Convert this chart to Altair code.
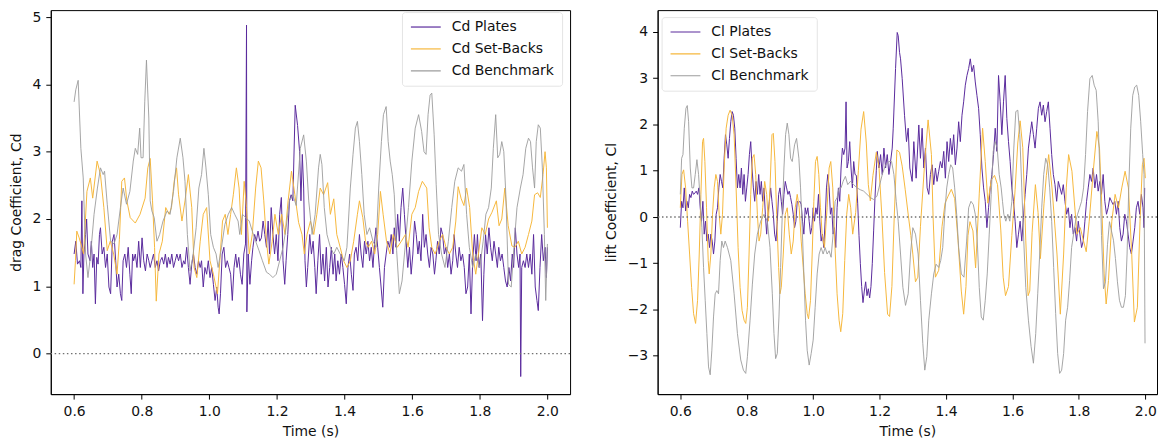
import altair as alt
import pandas as pd

# ---------------- data (time [s], coefficient) ----------------
cd_plates = [
    (0.600, 1.48), (0.605, 1.67), (0.610, 1.33), (0.616, 1.38), (0.620, 1.28), (0.623, 2.27), (0.626, 0.89),
    (0.629, 1.48), (0.634, 1.77), (0.637, 2.00), (0.641, 1.48), (0.647, 1.38), (0.651, 1.67), (0.655, 1.28),
    (0.659, 1.48), (0.663, 0.74), (0.667, 1.43), (0.671, 1.33), (0.675, 1.77), (0.678, 1.87), (0.683, 1.48),
    (0.688, 1.58), (0.693, 1.28), (0.698, 1.48), (0.703, 0.99), (0.708, 0.89), (0.713, 1.67), (0.718, 1.77),
    (0.723, 1.38), (0.727, 0.99), (0.732, 1.18), (0.737, 0.89), (0.741, 0.79), (0.745, 1.38), (0.750, 1.48),
    (0.755, 1.28), (0.760, 1.58), (0.765, 1.18), (0.769, 0.89), (0.773, 1.48), (0.776, 1.38), (0.781, 1.48),
    (0.786, 1.28), (0.791, 1.67), (0.796, 1.28), (0.801, 1.72), (0.806, 1.38), (0.811, 1.23), (0.816, 1.48),
    (0.821, 1.38), (0.825, 1.28), (0.830, 1.38), (0.835, 1.48), (0.840, 1.28), (0.845, 1.38), (0.850, 1.23),
    (0.855, 1.38), (0.860, 1.43), (0.865, 1.33), (0.870, 1.48), (0.875, 1.28), (0.879, 1.43), (0.884, 1.33),
    (0.889, 1.48), (0.894, 1.28), (0.899, 1.38), (0.904, 1.48), (0.909, 1.38), (0.914, 1.48), (0.919, 1.28),
    (0.924, 1.38), (0.928, 1.33), (0.933, 1.58), (0.938, 1.28), (0.943, 1.03), (0.948, 1.33), (0.953, 1.48),
    (0.958, 1.28), (0.963, 1.18), (0.968, 1.38), (0.973, 1.28), (0.977, 1.38), (0.982, 0.99), (0.987, 1.28),
    (0.992, 1.18), (0.997, 1.38), (1.002, 1.13), (1.007, 1.28), (1.012, 1.03), (1.017, 0.79), (1.022, 0.99),
    (1.026, 0.69), (1.029, 0.59), (1.033, 0.89), (1.038, 1.48), (1.043, 1.58), (1.048, 1.28), (1.053, 1.38),
    (1.058, 1.28), (1.063, 1.18), (1.068, 0.79), (1.073, 1.28), (1.078, 1.48), (1.082, 1.28), (1.087, 1.43),
    (1.092, 1.18), (1.097, 1.03), (1.102, 1.48), (1.107, 1.63), (1.110, 4.88), (1.111, 0.62), (1.115, 1.48),
    (1.120, 1.03), (1.125, 1.38), (1.129, 1.58), (1.134, 1.77), (1.139, 1.67), (1.144, 1.82), (1.149, 1.67),
    (1.154, 1.72), (1.159, 1.97), (1.164, 1.77), (1.169, 1.58), (1.174, 1.97), (1.178, 1.48), (1.183, 2.17),
    (1.188, 1.77), (1.193, 1.48), (1.198, 1.77), (1.203, 1.38), (1.208, 2.07), (1.213, 2.32), (1.218, 1.38),
    (1.223, 1.03), (1.227, 1.38), (1.232, 1.77), (1.237, 2.27), (1.242, 2.36), (1.247, 2.27), (1.254, 3.69),
    (1.261, 3.39), (1.267, 3.00), (1.271, 2.27), (1.275, 2.96), (1.279, 2.46), (1.283, 1.38), (1.287, 0.99),
    (1.291, 1.28), (1.297, 1.77), (1.302, 1.48), (1.307, 1.67), (1.312, 1.28), (1.316, 0.89), (1.321, 1.38),
    (1.326, 1.77), (1.331, 1.18), (1.336, 1.48), (1.341, 1.08), (1.346, 1.58), (1.351, 0.99), (1.356, 1.28),
    (1.361, 1.58), (1.366, 1.18), (1.371, 1.48), (1.375, 1.08), (1.380, 1.38), (1.385, 1.18), (1.390, 1.48),
    (1.395, 1.28), (1.400, 1.03), (1.405, 0.74), (1.410, 1.28), (1.415, 1.48), (1.420, 1.18), (1.425, 0.94),
    (1.429, 1.48), (1.434, 1.58), (1.439, 1.38), (1.444, 1.77), (1.449, 1.48), (1.454, 1.28), (1.459, 1.67),
    (1.464, 1.48), (1.469, 1.67), (1.474, 1.38), (1.479, 1.58), (1.484, 1.28), (1.489, 1.67), (1.493, 1.87),
    (1.498, 1.58), (1.503, 1.28), (1.508, 0.99), (1.513, 0.69), (1.518, 1.28), (1.523, 1.48), (1.528, 1.67),
    (1.533, 1.58), (1.538, 1.77), (1.543, 1.48), (1.547, 1.87), (1.552, 1.58), (1.557, 2.07), (1.562, 1.67),
    (1.567, 2.17), (1.572, 2.46), (1.577, 2.07), (1.582, 1.67), (1.587, 1.28), (1.592, 1.58), (1.597, 1.18),
    (1.602, 1.48), (1.607, 1.97), (1.612, 1.77), (1.617, 1.48), (1.621, 1.67), (1.626, 1.38), (1.631, 2.07),
    (1.636, 1.58), (1.641, 1.77), (1.646, 1.48), (1.651, 1.28), (1.656, 1.58), (1.661, 1.48), (1.666, 1.18),
    (1.670, 1.38), (1.675, 1.67), (1.680, 1.48), (1.685, 1.87), (1.690, 1.77), (1.695, 1.48), (1.700, 1.58),
    (1.705, 1.28), (1.710, 1.48), (1.715, 1.18), (1.720, 1.38), (1.724, 1.77), (1.729, 1.48), (1.734, 1.28),
    (1.739, 1.58), (1.744, 1.38), (1.749, 1.48), (1.754, 1.28), (1.759, 0.89), (1.764, 0.99), (1.769, 1.48),
    (1.774, 0.59), (1.779, 1.38), (1.784, 1.77), (1.789, 1.38), (1.793, 1.77), (1.798, 1.28), (1.803, 1.48),
    (1.808, 0.49), (1.812, 1.18), (1.817, 1.77), (1.822, 1.48), (1.827, 1.87), (1.832, 1.58), (1.837, 1.38),
    (1.842, 1.67), (1.847, 1.48), (1.852, 1.28), (1.856, 1.58), (1.861, 1.38), (1.866, 1.48), (1.871, 1.28),
    (1.876, 1.08), (1.881, 0.99), (1.886, 1.28), (1.891, 1.08), (1.896, 1.48), (1.900, 1.28), (1.905, 1.87),
    (1.910, 1.48), (1.915, 1.28), (1.919, 1.48), (1.921, -0.34), (1.924, 1.28), (1.929, 1.38), (1.934, 1.28),
    (1.939, 1.48), (1.944, 1.28), (1.949, 1.48), (1.954, 1.18), (1.959, 1.77), (1.964, 0.99), (1.969, 0.79),
    (1.973, 0.64), (1.978, 1.28), (1.983, 1.77), (1.988, 1.38), (1.993, 1.58), (1.997, 1.13), (2.000, 1.58),
]

cd_setbacks = [
    (0.600, 1.03), (0.604, 1.38), (0.608, 1.82), (0.615, 1.72), (0.622, 1.60), (0.628, 1.48), (0.638, 2.41),
    (0.648, 2.61), (0.655, 2.31), (0.668, 2.86), (0.678, 2.66), (0.688, 2.17), (0.698, 1.53), (0.707, 1.67),
    (0.717, 1.48), (0.727, 1.18), (0.734, 1.70), (0.741, 2.56), (0.749, 2.61), (0.756, 2.27), (0.766, 2.02),
    (0.781, 1.94), (0.795, 2.07), (0.810, 2.31), (0.818, 2.76), (0.825, 2.90), (0.832, 2.27), (0.838, 1.58),
    (0.843, 0.78), (0.851, 1.48), (0.861, 1.67), (0.871, 2.17), (0.881, 2.07), (0.888, 2.17), (0.896, 2.56),
    (0.903, 2.76), (0.909, 2.36), (0.919, 1.97), (0.928, 2.27), (0.938, 2.66), (0.948, 2.17), (0.955, 1.28),
    (0.963, 1.13), (0.973, 1.67), (0.982, 2.07), (0.992, 2.17), (1.002, 1.38), (1.012, 1.18), (1.024, 0.89),
    (1.031, 1.38), (1.039, 1.97), (1.047, 2.07), (1.055, 1.77), (1.063, 2.07), (1.071, 2.36), (1.080, 2.76),
    (1.088, 2.46), (1.095, 1.77), (1.103, 2.56), (1.110, 2.17), (1.118, 1.48), (1.127, 1.77), (1.137, 2.46),
    (1.145, 2.86), (1.153, 2.76), (1.161, 2.27), (1.169, 1.67), (1.176, 1.33), (1.186, 1.67), (1.194, 2.07),
    (1.204, 1.77), (1.214, 2.07), (1.224, 1.77), (1.233, 2.27), (1.243, 2.71), (1.253, 2.36), (1.264, 1.95),
    (1.274, 1.77), (1.281, 1.48), (1.289, 1.77), (1.299, 1.97), (1.309, 1.77), (1.318, 2.07), (1.328, 2.46),
    (1.338, 2.36), (1.350, 2.54), (1.358, 2.07), (1.368, 2.30), (1.377, 1.77), (1.387, 1.58), (1.397, 1.38),
    (1.407, 1.28), (1.417, 1.38), (1.427, 1.67), (1.438, 2.07), (1.444, 2.27), (1.454, 2.02), (1.462, 1.67),
    (1.470, 1.58), (1.480, 1.67), (1.489, 1.48), (1.498, 1.77), (1.506, 2.41), (1.514, 2.07), (1.524, 1.67),
    (1.534, 1.48), (1.544, 1.77), (1.556, 1.58), (1.568, 1.67), (1.580, 1.77), (1.588, 1.58), (1.599, 2.07),
    (1.609, 2.17), (1.619, 2.41), (1.630, 2.56), (1.643, 2.46), (1.650, 1.87), (1.658, 1.58), (1.668, 1.48),
    (1.680, 1.67), (1.690, 1.77), (1.700, 1.58), (1.710, 1.48), (1.720, 1.58), (1.729, 1.97), (1.736, 2.48),
    (1.745, 2.30), (1.753, 2.20), (1.761, 2.46), (1.770, 2.17), (1.779, 1.48), (1.788, 1.18), (1.796, 1.48),
    (1.806, 1.87), (1.816, 1.77), (1.826, 2.00), (1.836, 2.10), (1.849, 2.27), (1.857, 1.90), (1.865, 2.00),
    (1.874, 2.46), (1.884, 1.90), (1.895, 1.60), (1.904, 1.58), (1.914, 1.67), (1.924, 1.48), (1.934, 1.58),
    (1.944, 1.77), (1.954, 1.97), (1.962, 2.36), (1.971, 2.39), (1.979, 2.32), (1.987, 2.66), (1.993, 3.00),
    (1.997, 2.76), (2.000, 1.87),
]

cd_benchmark = [
    (0.600, 3.74), (0.605, 3.92), (0.612, 4.06), (0.620, 3.05), (0.627, 2.61), (0.634, 1.48), (0.641, 1.13),
    (0.649, 1.48), (0.659, 2.07), (0.669, 2.46), (0.678, 2.76), (0.686, 2.66), (0.690, 2.71), (0.698, 2.22),
    (0.708, 1.67), (0.718, 1.63), (0.727, 1.77), (0.737, 2.17), (0.745, 2.46), (0.755, 2.22), (0.765, 2.41),
    (0.775, 2.86), (0.781, 3.05), (0.788, 2.96), (0.794, 3.35), (0.798, 2.91), (0.804, 2.91), (0.809, 3.74),
    (0.814, 4.36), (0.821, 3.50), (0.825, 2.27), (0.830, 2.12), (0.837, 2.02), (0.845, 1.67), (0.853, 1.77),
    (0.863, 1.97), (0.875, 2.12), (0.884, 2.07), (0.894, 2.41), (0.904, 2.91), (0.914, 3.20), (0.922, 2.91),
    (0.928, 2.56), (0.935, 1.77), (0.943, 1.23), (0.951, 1.43), (0.961, 1.87), (0.969, 2.46), (0.977, 2.66),
    (0.984, 3.05), (0.990, 2.76), (0.997, 2.36), (1.004, 1.77), (1.012, 1.58), (1.020, 1.48), (1.026, 1.28),
    (1.036, 1.58), (1.046, 1.92), (1.056, 2.07), (1.066, 2.17), (1.075, 2.07), (1.085, 1.97), (1.090, 1.77),
    (1.098, 2.07), (1.108, 2.02), (1.118, 1.97), (1.127, 1.82), (1.137, 1.67), (1.147, 1.53), (1.157, 1.38),
    (1.169, 1.21), (1.178, 1.18), (1.188, 1.13), (1.198, 1.18), (1.208, 1.38), (1.218, 1.58), (1.227, 1.87),
    (1.237, 2.27), (1.247, 2.36), (1.257, 2.20), (1.269, 3.05), (1.279, 3.25), (1.287, 2.86), (1.294, 2.27),
    (1.304, 1.77), (1.313, 2.07), (1.323, 2.76), (1.328, 2.96), (1.333, 2.81), (1.340, 2.17), (1.348, 1.77),
    (1.358, 1.58), (1.368, 1.48), (1.377, 1.58), (1.387, 1.48), (1.399, 1.38), (1.407, 1.58), (1.417, 2.46),
    (1.425, 2.96), (1.432, 3.35), (1.438, 3.45), (1.444, 3.15), (1.451, 2.66), (1.458, 2.07), (1.466, 1.77),
    (1.474, 1.87), (1.484, 1.67), (1.493, 1.58), (1.501, 2.46), (1.509, 3.15), (1.515, 3.55), (1.523, 3.67),
    (1.529, 3.15), (1.535, 2.86), (1.541, 2.66), (1.547, 2.36), (1.554, 1.53), (1.562, 0.89), (1.570, 1.08),
    (1.579, 1.58), (1.589, 2.17), (1.599, 2.86), (1.609, 3.35), (1.619, 3.55), (1.628, 3.30), (1.635, 3.00),
    (1.641, 2.96), (1.647, 3.55), (1.653, 3.84), (1.658, 3.87), (1.665, 3.25), (1.671, 2.51), (1.678, 1.77),
    (1.687, 1.48), (1.697, 1.28), (1.707, 1.67), (1.717, 2.17), (1.726, 2.56), (1.736, 2.76), (1.746, 2.71),
    (1.753, 2.81), (1.761, 2.07), (1.769, 1.58), (1.779, 1.28), (1.788, 1.48), (1.800, 1.28), (1.810, 1.67),
    (1.818, 2.07), (1.826, 2.17), (1.834, 2.46), (1.840, 3.05), (1.847, 3.55), (1.853, 2.91), (1.859, 2.96),
    (1.865, 3.15), (1.871, 3.00), (1.877, 2.36), (1.885, 1.03), (1.893, 0.99), (1.901, 1.58), (1.910, 2.17),
    (1.920, 2.46), (1.928, 2.66), (1.936, 3.05), (1.944, 3.20), (1.950, 3.15), (1.956, 2.76), (1.962, 2.46),
    (1.967, 3.15), (1.973, 3.40), (1.979, 3.35), (1.985, 2.76), (1.991, 1.77), (1.995, 0.79), (2.000, 1.63),
]

cl_plates = [
    (0.600, -0.23), (0.604, 0.34), (0.608, 0.20), (0.612, 0.63), (0.616, 0.13), (0.620, 0.34), (0.624, 0.20),
    (0.628, 0.49), (0.632, 0.42), (0.636, 0.56), (0.640, 0.49), (0.644, 0.52), (0.648, 0.56), (0.652, 0.49),
    (0.656, 0.63), (0.660, 0.20), (0.664, -0.09), (0.668, 0.34), (0.672, -0.37), (0.676, -0.09), (0.680, -0.52),
    (0.684, -0.37), (0.688, -0.66), (0.692, -0.37), (0.696, -0.52), (0.700, -0.80), (0.704, -0.52), (0.708, 0.06),
    (0.712, 0.20), (0.716, 0.63), (0.720, 0.92), (0.724, 0.77), (0.728, 0.63), (0.732, 1.27), (0.736, 1.78),
    (0.740, 1.56), (0.744, 1.27), (0.748, 1.70), (0.752, 2.06), (0.756, 2.28), (0.760, 2.20), (0.764, 1.92),
    (0.768, 1.27), (0.772, 0.63), (0.776, 0.92), (0.780, 0.63), (0.784, 1.06), (0.788, 0.49), (0.792, 0.92),
    (0.796, 0.34), (0.800, 0.63), (0.804, 0.92), (0.808, 1.35), (0.812, 1.63), (0.816, 1.06), (0.820, 0.63),
    (0.824, 0.34), (0.828, 0.77), (0.832, 0.49), (0.836, 0.92), (0.840, 0.49), (0.844, 0.77), (0.848, 0.34),
    (0.852, 0.63), (0.856, 0.06), (0.860, -0.37), (0.864, 0.06), (0.868, 0.34), (0.872, 0.63), (0.876, 0.34),
    (0.880, 0.06), (0.884, -0.37), (0.888, -0.52), (0.892, -0.09), (0.896, 0.49), (0.900, 0.63), (0.904, 0.34),
    (0.908, 0.06), (0.912, 0.49), (0.916, 0.77), (0.920, 0.63), (0.924, 0.49), (0.928, 0.56), (0.932, 0.42),
    (0.936, 0.27), (0.940, 0.06), (0.944, -0.23), (0.948, -0.09), (0.952, 0.34), (0.956, 0.31), (0.960, 0.34),
    (0.964, 0.27), (0.968, -0.09), (0.972, -0.37), (0.976, 0.20), (0.980, 0.06), (0.984, 0.20), (0.988, -0.09),
    (0.992, -0.37), (0.996, -0.23), (1.000, 0.20), (1.004, -0.09), (1.008, 0.20), (1.012, 0.06), (1.016, 0.49),
    (1.020, -0.09), (1.024, -0.52), (1.028, -0.37), (1.032, -0.66), (1.036, -0.09), (1.040, 0.63), (1.044, 0.92),
    (1.048, 0.63), (1.052, 0.06), (1.056, 0.20), (1.060, -0.37), (1.064, -0.23), (1.068, -0.66), (1.072, 0.20),
    (1.076, 0.63), (1.080, 0.34), (1.084, 1.06), (1.088, 1.49), (1.092, 1.35), (1.096, 1.49), (1.099, 2.49),
    (1.102, 1.06), (1.106, 1.20), (1.110, 1.63), (1.114, 1.06), (1.118, 0.63), (1.122, 1.20), (1.126, 0.92),
    (1.130, 0.90), (1.134, 0.30), (1.138, -0.40), (1.142, -1.00), (1.146, -1.50), (1.150, -1.85), (1.154, -1.60),
    (1.158, -1.40), (1.162, -1.70), (1.166, -1.55), (1.170, -1.75), (1.174, -1.50), (1.178, -1.00), (1.182, -0.30),
    (1.186, 0.40), (1.190, 1.00), (1.193, 1.42), (1.198, 1.06), (1.203, 1.35), (1.208, 0.92), (1.213, 1.49),
    (1.218, 1.06), (1.223, 1.35), (1.228, 0.92), (1.233, 1.20), (1.238, 1.49), (1.241, 1.92), (1.248, 3.21),
    (1.253, 3.99), (1.256, 3.92), (1.260, 3.56), (1.263, 3.42), (1.268, 2.99), (1.275, 2.20), (1.281, 1.63),
    (1.286, 1.92), (1.291, 1.06), (1.298, 0.77), (1.303, 1.63), (1.310, 0.84), (1.318, 1.99), (1.323, 1.27),
    (1.328, 1.92), (1.333, 1.06), (1.338, 1.49), (1.343, 0.63), (1.348, 0.49), (1.353, 0.92), (1.358, 1.13),
    (1.363, 0.70), (1.368, 1.06), (1.373, 0.77), (1.378, 0.99), (1.383, 1.20), (1.388, 1.06), (1.393, 1.42),
    (1.398, 0.84), (1.403, 1.63), (1.408, 1.20), (1.413, 1.70), (1.418, 1.35), (1.423, 1.78), (1.428, 1.13),
    (1.433, 1.49), (1.438, 2.06), (1.443, 1.63), (1.448, 2.20), (1.453, 2.49), (1.458, 2.85), (1.463, 3.06),
    (1.468, 3.21), (1.473, 3.42), (1.478, 3.14), (1.483, 3.28), (1.488, 2.92), (1.493, 2.63), (1.498, 2.35),
    (1.503, 1.78), (1.508, 1.06), (1.513, 0.63), (1.518, 0.34), (1.523, -0.23), (1.528, 0.20), (1.533, 0.63),
    (1.538, 0.92), (1.543, 1.35), (1.548, 1.92), (1.553, 1.42), (1.558, 3.06), (1.563, 2.49), (1.568, 1.78),
    (1.573, 2.49), (1.578, 3.06), (1.583, 2.13), (1.588, 1.63), (1.593, 1.20), (1.598, 0.63), (1.603, 0.34),
    (1.608, -0.09), (1.613, -0.66), (1.618, -0.37), (1.623, -0.09), (1.628, -0.52), (1.633, -0.01), (1.638, 0.49),
    (1.643, 0.92), (1.648, 1.49), (1.653, 1.78), (1.658, 2.06), (1.663, 1.78), (1.668, 1.49), (1.673, 1.92),
    (1.678, 2.35), (1.683, 2.49), (1.688, 2.20), (1.693, 2.42), (1.698, 2.06), (1.703, 2.28), (1.708, 2.49),
    (1.713, 1.92), (1.718, 1.35), (1.723, 0.92), (1.728, 0.70), (1.733, 0.34), (1.738, 0.77), (1.743, 0.63),
    (1.748, 0.49), (1.753, 0.70), (1.758, 0.34), (1.763, 0.06), (1.768, 0.20), (1.773, -0.23), (1.778, 0.06),
    (1.783, -0.37), (1.788, -0.23), (1.793, -0.52), (1.798, -0.09), (1.803, -0.37), (1.808, -0.66), (1.813, -0.52),
    (1.818, -0.09), (1.823, 0.34), (1.828, 0.63), (1.833, 0.92), (1.838, 0.77), (1.843, 1.06), (1.848, 0.63),
    (1.853, 0.92), (1.858, 0.56), (1.863, 0.77), (1.868, 0.49), (1.873, 0.92), (1.878, 0.34), (1.883, 0.06),
    (1.888, 0.20), (1.893, 0.42), (1.898, 0.34), (1.903, 0.27), (1.908, 0.34), (1.913, 0.06), (1.918, 0.34),
    (1.923, -0.23), (1.928, -0.52), (1.933, -0.37), (1.938, 0.06), (1.943, -0.09), (1.948, -0.37), (1.953, -0.66),
    (1.958, -0.80), (1.963, -0.52), (1.968, -0.23), (1.973, 0.20), (1.978, 0.34), (1.983, 0.06), (1.988, 0.49),
    (1.993, 0.20), (1.996, -0.23), (1.998, 0.63),
]

cl_setbacks = [
    (0.600, 0.20), (0.605, 0.92), (0.610, 1.02), (0.616, 0.63), (0.622, -0.09), (0.628, -0.80), (0.634, -1.52),
    (0.640, -2.09), (0.646, -2.30), (0.652, -1.80), (0.657, -0.80), (0.662, 0.49), (0.667, 1.63), (0.670, 1.70),
    (0.674, 1.20), (0.679, 0.20), (0.684, -0.94), (0.687, -1.23), (0.692, -0.80), (0.697, 0.06), (0.702, 0.63),
    (0.707, 0.92), (0.712, 0.77), (0.717, 0.06), (0.722, -0.37), (0.727, 0.06), (0.732, 1.06), (0.738, 1.92),
    (0.744, 2.20), (0.750, 2.31), (0.756, 2.20), (0.762, 1.78), (0.768, 0.63), (0.774, -0.66), (0.780, -1.52),
    (0.786, -2.02), (0.792, -2.23), (0.797, -2.30), (0.802, -1.95), (0.807, -0.80), (0.812, 0.49), (0.817, 1.27),
    (0.822, 1.35), (0.827, 0.92), (0.832, 0.06), (0.837, -0.52), (0.842, -0.37), (0.848, 0.20), (0.854, 0.77),
    (0.860, 0.49), (0.865, -0.09), (0.870, 0.63), (0.876, 1.78), (0.880, 1.81), (0.885, 1.20), (0.890, 0.06),
    (0.896, -1.09), (0.900, -1.66), (0.904, -1.52), (0.910, -0.80), (0.916, 0.06), (0.922, 0.20), (0.928, -0.37),
    (0.934, -0.80), (0.940, -0.52), (0.946, 0.20), (0.952, 0.49), (0.958, 0.20), (0.964, -0.52), (0.970, -1.09),
    (0.976, -1.66), (0.982, -2.09), (0.986, -2.20), (0.992, -1.80), (0.997, -0.80), (1.002, 0.34), (1.007, 1.20),
    (1.012, 1.31), (1.017, 0.92), (1.022, 0.20), (1.027, -0.37), (1.034, -0.66), (1.042, 0.20), (1.048, 1.06),
    (1.053, 1.20), (1.059, 0.63), (1.065, -0.52), (1.072, -1.66), (1.078, -2.23), (1.083, -2.48), (1.089, -2.09),
    (1.095, -0.94), (1.101, 0.06), (1.107, 0.49), (1.113, 0.20), (1.119, -0.37), (1.128, 0.10), (1.136, 1.00),
    (1.144, 1.90), (1.152, 2.28), (1.160, 1.60), (1.166, 0.70), (1.172, 0.35), (1.180, 0.90), (1.190, 1.40),
    (1.198, 1.10), (1.207, 0.00), (1.215, -1.20), (1.224, -2.10), (1.230, -2.15), (1.237, -1.50), (1.244, 0.00),
    (1.252, 1.45), (1.260, 1.40), (1.268, 1.10), (1.277, 0.60), (1.287, 0.00), (1.294, -0.40), (1.300, -0.80),
    (1.308, -1.40), (1.315, -1.30), (1.323, -0.20), (1.336, 1.21), (1.346, 2.10), (1.356, 1.35), (1.361, 0.00),
    (1.368, -1.30), (1.378, -1.15), (1.388, -0.20), (1.397, 0.30), (1.406, 0.45), (1.416, 0.60), (1.426, 0.40),
    (1.436, -0.50), (1.446, -1.60), (1.453, -2.10), (1.460, -1.50), (1.466, -0.40), (1.472, -0.10), (1.481, -0.30),
    (1.489, -1.10), (1.500, 0.50), (1.510, 1.92), (1.518, 1.20), (1.526, 0.30), (1.536, 0.80), (1.546, 0.90),
    (1.555, 0.70), (1.565, -0.30), (1.572, -1.30), (1.579, -1.70), (1.588, -1.50), (1.598, -0.40), (1.608, 0.60),
    (1.616, 1.60), (1.623, 2.08), (1.631, 1.50), (1.640, -0.50), (1.647, -1.70), (1.652, -1.60), (1.659, -0.34),
    (1.669, 0.70), (1.677, 0.10), (1.684, -0.90), (1.695, 0.30), (1.702, 0.90), (1.709, 1.35), (1.719, 0.63),
    (1.734, -0.80), (1.744, -2.10), (1.754, -0.80), (1.762, 0.63), (1.769, 1.35), (1.779, 0.99), (1.794, -0.37),
    (1.804, -0.23), (1.822, -0.75), (1.831, -0.09), (1.844, 1.06), (1.854, 1.85), (1.862, 1.49), (1.869, 0.20),
    (1.876, -1.23), (1.882, -1.88), (1.889, -1.37), (1.899, -0.09), (1.909, 0.49), (1.919, 0.20), (1.929, 0.63),
    (1.939, 0.99), (1.949, 0.63), (1.959, -0.80), (1.967, -2.27), (1.976, -1.95), (1.984, -0.09), (1.991, 1.13),
    (1.996, 1.27), (2.000, 0.84),
]

cl_benchmark = [
    (0.600, 0.49), (0.604, 1.27), (0.608, 1.35), (0.612, 1.92), (0.617, 2.35), (0.621, 2.41), (0.625, 2.06),
    (0.630, 1.06), (0.635, 0.63), (0.640, 0.63), (0.645, 0.92), (0.650, 1.24), (0.655, 0.92), (0.660, 0.34),
    (0.665, -0.23), (0.670, -1.09), (0.675, -1.80), (0.680, -2.52), (0.685, -3.24), (0.690, -3.41), (0.695, -2.88),
    (0.700, -2.16), (0.705, -1.66), (0.710, -1.59), (0.715, -1.66), (0.720, -0.94), (0.725, -0.52), (0.730, -0.66),
    (0.735, -0.52), (0.742, -0.66), (0.752, -0.94), (0.762, -1.66), (0.772, -2.52), (0.782, -3.09), (0.790, -3.31),
    (0.797, -3.38), (0.802, -3.02), (0.810, -2.23), (0.817, -1.45), (0.824, -0.80), (0.832, -0.37), (0.842, -0.09),
    (0.852, 0.06), (0.862, -0.09), (0.870, -0.66), (0.877, -1.66), (0.882, -2.52), (0.887, -3.06), (0.892, -2.95),
    (0.897, -2.16), (0.902, -1.09), (0.907, 0.06), (0.912, 1.06), (0.917, 1.78), (0.922, 2.03), (0.927, 1.78),
    (0.932, 1.27), (0.937, 1.20), (0.944, 1.56), (0.950, 1.70), (0.957, 1.27), (0.962, 0.63), (0.967, -0.23),
    (0.972, -1.23), (0.977, -2.23), (0.982, -2.88), (0.988, -3.20), (0.994, -2.95), (1.000, -2.66), (1.006, -1.95),
    (1.012, -1.23), (1.018, -0.80), (1.024, -0.66), (1.030, -0.80), (1.036, -0.66), (1.042, -0.80), (1.048, -0.73),
    (1.054, -0.87), (1.060, -0.37), (1.066, 0.34), (1.072, 0.42), (1.078, 0.63), (1.084, 0.63), (1.090, 0.77),
    (1.097, 0.88), (1.104, 0.70), (1.112, 0.77), (1.122, 0.70), (1.132, 0.63), (1.142, 0.59), (1.152, 0.56),
    (1.162, 0.49), (1.172, 0.42), (1.182, 0.38), (1.192, 0.45), (1.198, 0.63), (1.208, 0.92), (1.218, 1.13),
    (1.228, 1.20), (1.236, 1.20), (1.243, 0.92), (1.250, 0.34), (1.256, -0.09), (1.263, -0.80), (1.270, -1.52),
    (1.278, -1.91), (1.286, -1.66), (1.293, -0.80), (1.300, -0.23), (1.308, -0.37), (1.316, -0.80), (1.323, -1.80),
    (1.330, -2.73), (1.336, -3.31), (1.342, -3.02), (1.348, -2.23), (1.356, -1.66), (1.363, -1.23), (1.370, -1.02),
    (1.378, -1.09), (1.384, -0.94), (1.390, -0.66), (1.396, 0.06), (1.402, 0.63), (1.408, 0.92), (1.414, 1.13),
    (1.420, 1.06), (1.426, 0.63), (1.432, 0.06), (1.438, -0.66), (1.446, -1.23), (1.454, -1.30), (1.462, -0.52),
    (1.468, 0.20), (1.475, 0.34), (1.482, 0.27), (1.488, 0.06), (1.494, -0.52), (1.500, -1.52), (1.506, -2.16),
    (1.512, -2.23), (1.518, -1.80), (1.524, -1.23), (1.530, -0.37), (1.536, 0.49), (1.542, 1.42), (1.548, 1.63),
    (1.554, 1.49), (1.560, 0.92), (1.566, 0.63), (1.570, 0.34), (1.574, 0.06), (1.580, -0.09), (1.586, 0.06),
    (1.592, -0.09), (1.598, 0.34), (1.604, 1.49), (1.610, 2.28), (1.616, 2.31), (1.622, 1.78), (1.628, 0.63),
    (1.634, -0.52), (1.640, -1.52), (1.648, -2.23), (1.656, -2.80), (1.663, -3.16), (1.670, -2.52), (1.676, -1.66),
    (1.682, -0.80), (1.688, 0.20), (1.694, 0.92), (1.700, 1.27), (1.706, 1.13), (1.712, 0.63), (1.718, -0.09),
    (1.724, -1.09), (1.730, -2.09), (1.736, -2.95), (1.742, -3.38), (1.748, -3.31), (1.754, -2.95), (1.760, -2.23),
    (1.766, -1.95), (1.772, -1.37), (1.778, -0.66), (1.784, -0.37), (1.790, -0.09), (1.796, 0.06), (1.802, 0.20),
    (1.808, 0.34), (1.814, 0.63), (1.820, 1.35), (1.826, 2.28), (1.833, 2.99), (1.840, 3.06), (1.846, 2.85),
    (1.852, 2.74), (1.858, 2.06), (1.864, 0.77), (1.868, -0.40), (1.874, -1.55), (1.880, -1.40), (1.886, -0.60),
    (1.892, -0.10), (1.898, -0.30), (1.904, -0.50), (1.910, -0.90), (1.916, -1.40), (1.922, -1.80), (1.928, -1.95),
    (1.934, -1.95), (1.940, -1.70), (1.945, -0.80), (1.950, 0.63), (1.956, 1.92), (1.962, 2.63), (1.968, 2.81),
    (1.974, 2.85), (1.980, 2.63), (1.986, 2.06), (1.992, 1.35), (1.996, 0.92), (1.999, -2.73),
]

x_ticks = [0.6, 0.8, 1.0, 1.2, 1.4, 1.6, 1.8, 2.0]
cd_ticks = [0, 1, 2, 3, 4, 5]
cl_ticks = [-3, -2, -1, 0, 1, 2, 3, 4]

cd_names = ["Cd Plates", "Cd Set-Backs", "Cd Benchmark"]
cl_names = ["Cl Plates", "Cl Set-Backs", "Cl Benchmark"]
line_colors = ["#5a2a9c", "#f6b73c", "#9c9c9c"]

FONT = "DejaVu Sans"
FS = 14


def to_frame(pairs, name):
    return pd.DataFrame({"t": [p[0] for p in pairs], "v": [p[1] for p in pairs], "series": name})


def panel(series, names, y_domain, y_ticks, y_title, width, height, x_domain, legend_x, legend_y):
    color = alt.Color(
        "series:N",
        scale=alt.Scale(domain=names, range=line_colors),
        title=None,
        legend=alt.Legend(
            orient="none", legendX=legend_x, legendY=legend_y,
            symbolType="stroke", symbolSize=900, symbolStrokeWidth=1.2, clipHeight=14,
            labelFont=FONT, labelFontSize=FS, labelColor="#111111", labelOffset=10,
            rowPadding=8, padding=8, fillColor="#ffffff", strokeColor="#e4e4e4", cornerRadius=3,
        ),
    )
    x = alt.X("t:Q", scale=alt.Scale(domain=x_domain, nice=False, zero=False),
              axis=alt.Axis(values=x_ticks, format=".1f", title="Time (s)"))
    y = alt.Y("v:Q", scale=alt.Scale(domain=y_domain, nice=False, zero=False),
              axis=alt.Axis(values=y_ticks, format="d", title=y_title))
    layers = []
    for pairs, name, sw in zip(series, names, [1.0, 1.0, 0.9]):
        layers.append(
            alt.Chart(to_frame(pairs, name)).mark_line(strokeWidth=sw, clip=True).encode(
                x=x, y=y, color=color, order=alt.Order("t:Q")
            )
        )
    zero = alt.Chart(pd.DataFrame({"z": [0.0]})).mark_rule(
        color="#707070", strokeDash=[1.5, 2.6], strokeWidth=1.4
    ).encode(y=alt.Y("z:Q"))
    return alt.layer(*layers, zero).properties(width=width, height=height)


left = panel([cd_plates, cd_setbacks, cd_benchmark], cd_names,
             [-0.601, 5.103], cd_ticks, "drag Coefficient, Cd",
             522, 386, [0.531, 2.067], 353, 2)
right = panel([cl_plates, cl_setbacks, cl_benchmark], cl_names,
              [-3.828, 4.473], cl_ticks, "lift Coefficient, Cl",
              502, 386, [0.5317, 2.0351], 4, 7)

chart = alt.hconcat(left, right, spacing=31).resolve_scale(color="independent", y="independent").properties(
    padding={"left": 0, "top": 0, "right": 0, "bottom": 0}, background="white"
).configure_axis(
    labelFont=FONT, titleFont=FONT, labelFontSize=FS, titleFontSize=FS,
    labelColor="#111111", titleColor="#111111", domainColor="#000000", tickColor="#000000",
    tickSize=5, labelPadding=5, grid=False, titleFontWeight="normal", domainWidth=1,
).configure_axisY(titlePadding=9).configure_axisX(titlePadding=7).configure_view(
    stroke="#000000", strokeWidth=1
)

chart.save("out.html", embed_options={"renderer": "svg", "actions": False})
